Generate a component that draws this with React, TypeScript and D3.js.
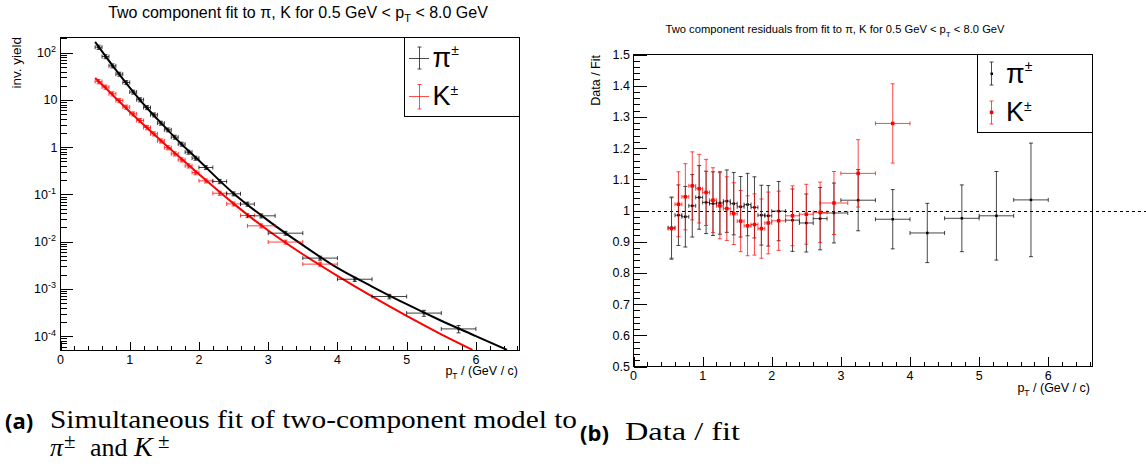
import React from "react";
import * as d3 from "d3";

const W = 1146;
const H = 466;

// ---------- data ----------
const pionPt = [0.55, 0.65, 0.75, 0.85, 0.95, 1.05, 1.15, 1.25, 1.35, 1.45, 1.55, 1.65, 1.75, 1.85, 1.95, 2.1, 2.3, 2.5, 2.7, 2.9, 3.25, 3.75, 4.25, 4.75, 5.25, 5.75];
const pionHalfWidth = [0.05, 0.05, 0.05, 0.05, 0.05, 0.05, 0.05, 0.05, 0.05, 0.05, 0.05, 0.05, 0.05, 0.05, 0.05, 0.1, 0.1, 0.1, 0.1, 0.2, 0.25, 0.25, 0.25, 0.25, 0.25, 0.25];
const pionYield = [131, 83, 52.8, 35.2, 23.4, 14.7, 10.1, 6.9, 4.84, 3.23, 2.33, 1.63, 1.16, 0.786, 0.586, 0.371, 0.188, 0.103, 0.0623, 0.0352, 0.0151, 0.00448, 0.0016, 0.00069, 0.000307, 0.000142];
const pionRatio = [0.945, 0.985, 0.98, 1.015, 1.042, 1.026, 1.022, 1.024, 1.03, 1.022, 1.012, 1.019, 1.01, 0.985, 0.983, 0.998, 0.969, 0.96, 0.974, 0.992, 1.033, 0.972, 0.928, 0.975, 0.983, 1.034];
const pionRatioErr = [0.098, 0.097, 0.097, 0.1, 0.102, 0.1, 0.102, 0.1, 0.1, 0.1, 0.097, 0.1, 0.098, 0.096, 0.097, 0.095, 0.1, 0.093, 0.1, 0.096, 0.098, 0.095, 0.095, 0.107, 0.142, 0.182];

const kaonPt = [0.55, 0.65, 0.75, 0.85, 0.95, 1.05, 1.15, 1.25, 1.35, 1.45, 1.55, 1.65, 1.75, 1.85, 1.95, 2.1, 2.3, 2.5, 2.7, 2.9, 3.25, 3.75];
const kaonHalfWidth = [0.05, 0.05, 0.05, 0.05, 0.05, 0.05, 0.05, 0.05, 0.05, 0.05, 0.05, 0.05, 0.05, 0.05, 0.05, 0.1, 0.1, 0.1, 0.1, 0.2, 0.25, 0.25];
const kaonYield = [24.5, 18.7, 13.5, 9.7, 7.05, 5.08, 3.67, 2.61, 1.92, 1.36, 0.98, 0.724, 0.54, 0.403, 0.29, 0.194, 0.106, 0.063, 0.0357, 0.0216, 0.0098, 0.00334];
const kaonRatio = [0.942, 1.02, 1.044, 1.079, 1.07, 1.058, 1.033, 1.015, 1.006, 0.99, 0.966, 0.951, 0.955, 0.942, 0.96, 0.967, 0.983, 0.988, 0.994, 1.024, 1.119, 1.279];
const kaonRatioErr = [0.099, 0.104, 0.106, 0.109, 0.11, 0.106, 0.104, 0.106, 0.102, 0.099, 0.098, 0.096, 0.098, 0.095, 0.099, 0.095, 0.096, 0.096, 0.097, 0.101, 0.108, 0.127];

const pionFitPt = [0.5, 0.75, 1.0, 1.25, 1.5, 1.75, 2.0, 2.5, 3.0, 3.5, 4.0, 4.5, 5.0, 5.5, 6.0, 6.45];
const pionFitYield = [170, 53.9, 18.3, 6.74, 2.75, 1.15, 0.52, 0.105, 0.0279, 0.00843, 0.00277, 0.00112, 0.000473, 0.000211, 0.0001, 0.000051];
const kaonFitPt = [0.5, 0.75, 1.0, 1.25, 1.5, 1.75, 2.0, 2.5, 3.0, 3.5, 4.0, 4.5, 5.0, 5.5, 5.95];
const kaonFitYield = [29, 12.93, 5.62, 2.57, 1.18, 0.565, 0.268, 0.0638, 0.0172, 0.0054, 0.00188, 0.00069, 0.000267, 0.000109, 0.0000513];

const xTickLabels = ["0", "1", "2", "3", "4", "5", "6"];
const logDecades = [-4, -3, -2, -1, 0, 1, 2];
const ratioTickLabels = ["0.5", "0.6", "0.7", "0.8", "0.9", "1", "1.1", "1.2", "1.3", "1.4", "1.5"];

// ---------- layout ----------
const FONT = "'Liberation Sans', Arial, Helvetica, sans-serif";
const SERIF = "'Liberation Serif', 'Times New Roman', serif";
const L = { x0: 60.5, x1: 519.5, y0: 37.5, y1: 350.5 };
const R = { x0: 633.5, x1: 1092.5, y0: 54.5, y1: 366.5 };

const xL = d3.scaleLinear().domain([0, 6.63]).range([L.x0, L.x1]);
const yL = d3.scaleLog().domain([Math.pow(10, -4.305), Math.pow(10, 2.322)]).range([L.y1, L.y0]);
const xR = d3.scaleLinear().domain([0, 6.64]).range([R.x0, R.x1]);
const yR = d3.scaleLinear().domain([0.5, 1.5]).range([R.y1, R.y0]);

const BLACK = "#000000";
const RED = "#ff0000";

function errPath(cx: number, cy: number, xa: number, xb: number, ya: number, yb: number, cap: number) {
  let p = `M${xa},${cy}H${xb}`;
  p += `M${xa},${cy - cap}V${cy + cap}M${xb},${cy - cap}V${cy + cap}`;
  p += `M${cx},${ya}V${yb}`;
  p += `M${cx - cap},${ya}H${cx + cap}M${cx - cap},${yb}H${cx + cap}`;
  return p;
}

function SupLabel({ x, y, base, sup, anchor, size }: any) {
  return (
    <text x={x} y={y} textAnchor={anchor} fontFamily={FONT} fontSize={size}>
      {base}
      {sup !== undefined && (
        <tspan dy={-5} fontSize={size * 0.72}>
          {sup}
        </tspan>
      )}
    </text>
  );
}

export default function App() {
  const xTicksL: JSX.Element[] = [];
  for (let i = 0; i * 0.2 <= 6.63 + 1e-9; i++) {
    const v = i * 0.2;
    const major = i % 5 === 0;
    const px = Math.round(xL(v)) + 0.5;
    xTicksL.push(<path key={"xl" + i} d={`M${px},${L.y1}V${L.y1 - (major ? 9 : 4.7)}`} stroke="#000" />);
  }
  const yTicksL: JSX.Element[] = [];
  const [ymin, ymax] = yL.domain();
  for (let k = -5; k <= 2; k++) {
    for (let m = 1; m <= 9; m++) {
      const v = m * Math.pow(10, k);
      if (v < ymin || v > ymax) continue;
      const py = Math.round(yL(v)) + 0.5;
      yTicksL.push(<path key={`yl${k}_${m}`} d={`M${L.x0},${py}H${L.x0 + (m === 1 ? 12 : 6)}`} stroke="#000" />);
    }
  }
  const xTicksR: JSX.Element[] = [];
  for (let i = 0; i * 0.2 <= 6.64 + 1e-9; i++) {
    const v = i * 0.2;
    const major = i % 5 === 0;
    const px = Math.round(xR(v)) + 0.5;
    xTicksR.push(<path key={"xr" + i} d={`M${px},${R.y1}V${R.y1 - (major ? 10 : 4.5)}`} stroke="#000" />);
  }
  const yTicksR: JSX.Element[] = [];
  for (let i = 0; i <= 50; i++) {
    const v = 0.5 + i * 0.02;
    const major = i % 5 === 0;
    const py = Math.round(yR(v)) + 0.5;
    yTicksR.push(<path key={"yr" + i} d={`M${R.x0},${py}H${R.x0 + (major ? 13 : 6.5)}`} stroke="#000" />);
  }

  const lineL = d3
    .line<[number, number]>()
    .x((d) => xL(d[0]))
    .y((d) => yL(d[1]))
    .curve(d3.curveCatmullRom.alpha(0.5));
  const pionFit = lineL(pionFitPt.map((p, i) => [p, pionFitYield[i]] as [number, number])) || "";
  const kaonFit = lineL(kaonFitPt.map((p, i) => [p, kaonFitYield[i]] as [number, number])) || "";

  const leftPoints = (pts: number[], hw: number[], ys: number[], rat: number[], rerr: number[], color: string, key: string) =>
    pts.map((p, i) => {
      const cx = xL(p);
      const cy = yL(ys[i]);
      const rel = rerr[i] / rat[i];
      const ya = yL(ys[i] * (1 + rel));
      const yb = yL(Math.max(ys[i] * (1 - rel), 1e-9));
      return (
        <g key={key + i}>
          <path d={errPath(cx, cy, xL(p - hw[i]), xL(p + hw[i]), ya, yb, 2)} stroke={color} strokeOpacity={0.75} strokeWidth={1} fill="none" />
          <rect x={cx - 1.5} y={cy - 1.5} width={3} height={3} fill={color} fillOpacity={0.6} />
        </g>
      );
    });

  const rightPoints = (pts: number[], hw: number[], rat: number[], rerr: number[], color: string, key: string, msize: number) =>
    pts.map((p, i) => {
      const cx = xR(p);
      const cy = yR(rat[i]);
      return (
        <g key={key + i}>
          <path d={errPath(cx, cy, xR(p - hw[i]), xR(p + hw[i]), yR(rat[i] + rerr[i]), yR(rat[i] - rerr[i]), 2)} stroke={color} strokeOpacity={0.72} strokeWidth={1} fill="none" />
          <rect x={cx - msize / 2} y={cy - msize / 2} width={msize} height={msize} fill={color} />
        </g>
      );
    });

  return (
    <svg width={W} height={H} viewBox={`0 0 ${W} ${H}`} style={{ display: "block", position: "absolute", left: 0, top: 0, background: "#fff" }}>
      <rect x={0} y={0} width={W} height={H} fill="#fff" />
      <defs>
        <clipPath id="clipL">
          <rect x={L.x0} y={L.y0} width={L.x1 - L.x0} height={L.y1 - L.y0} />
        </clipPath>
      </defs>

      {/* ===== Left plot ===== */}
      <text x={298} y={18} textAnchor="middle" fontFamily={FONT} fontSize={16}>
        Two component fit to π, K for 0.5 GeV &lt; p
        <tspan dy={4} fontSize={11}>T</tspan>
        <tspan dy={-4}> &lt; 8.0 GeV</tspan>
      </text>
      <g shapeRendering="crispEdges">
        <rect x={L.x0} y={L.y0} width={L.x1 - L.x0} height={L.y1 - L.y0} fill="none" stroke="#000" />
        {xTicksL}
        {yTicksL}
      </g>
      {xTickLabels.map((t, i) => (
        <text key={"xlL" + i} x={xL(i)} y={363.5} textAnchor="middle" fontFamily={FONT} fontSize={12.5}>
          {t}
        </text>
      ))}
      {logDecades.map((k) => (
        <SupLabel
          key={"lab" + k}
          x={k === 0 || k === 1 ? 57.5 : 56}
          y={yL(Math.pow(10, k)) + 4.5}
          base={k === 0 ? "1" : "10"}
          sup={k === 0 || k === 1 ? undefined : String(k)}
          anchor="end"
          size={12.5}
        />
      ))}
      <text transform="translate(20.5,37) rotate(-90)" textAnchor="end" fontFamily={FONT} fontSize={13.5}>
        inv. yield
      </text>
      <text x={518} y={375} textAnchor="end" fontFamily={FONT} fontSize={12.5}>
        p<tspan dy={4} fontSize={8.5}>T</tspan>
        <tspan dy={-4}> / (GeV / c)</tspan>
      </text>
      <g clipPath="url(#clipL)">
        <path d={pionFit} stroke={BLACK} strokeWidth={2} fill="none" />
        <path d={kaonFit} stroke={RED} strokeWidth={2} fill="none" />
      </g>
      {leftPoints(kaonPt, kaonHalfWidth, kaonYield, kaonRatio, kaonRatioErr, RED, "kl")}
      {leftPoints(pionPt, pionHalfWidth, pionYield, pionRatio, pionRatioErr, BLACK, "pl")}

      {/* left legend */}
      <g shapeRendering="crispEdges">
        <rect x={404.5} y={37.5} width={115} height={78.5} fill="#fff" stroke="#000" />
      </g>
      <path d={`M409,58.5H429M419.5,47V69M417.5,47H421.5M417.5,69H421.5`} stroke="#000" strokeOpacity={0.7} fill="none" />
      <path d={`M409,96.5H429M419.5,84.5V109M417.5,84.5H421.5M417.5,109H421.5`} stroke={RED} strokeOpacity={0.7} fill="none" />
      <text x={432.5} y={67} fontFamily={FONT} fontSize={27}>
        π<tspan dy={-12} fontSize={14}>±</tspan>
      </text>
      <text x={432.5} y={105} fontFamily={FONT} fontSize={27}>
        K<tspan dy={-10} fontSize={14}>±</tspan>
      </text>

      {/* ===== Right plot ===== */}
      <text x={835} y={33} textAnchor="middle" fontFamily={FONT} fontSize={11.2}>
        Two component residuals from fit to π, K for 0.5 GeV &lt; p
        <tspan dy={4} fontSize={8}>T</tspan>
        <tspan dy={-4}> &lt; 8.0 GeV</tspan>
      </text>
      <g shapeRendering="crispEdges">
        <rect x={R.x0} y={R.y0} width={R.x1 - R.x0} height={R.y1 - R.y0} fill="none" stroke="#000" />
        {xTicksR}
        {yTicksR}
      </g>
      {xTickLabels.map((t, i) => (
        <text key={"xlR" + i} x={xR(i)} y={380} textAnchor="middle" fontFamily={FONT} fontSize={12.5}>
          {t}
        </text>
      ))}
      {ratioTickLabels.map((t, i) => (
        <text key={"ylR" + i} x={630} y={yR(0.5 + i * 0.1) + 4.5} textAnchor="end" fontFamily={FONT} fontSize={12.5}>
          {t}
        </text>
      ))}
      <text transform="translate(600,55) rotate(-90)" textAnchor="end" fontFamily={FONT} fontSize={12.5}>
        Data / Fit
      </text>
      <text x={1090} y={392} textAnchor="end" fontFamily={FONT} fontSize={12.5}>
        p<tspan dy={4} fontSize={8.5}>T</tspan>
        <tspan dy={-4}> / (GeV / c)</tspan>
      </text>
      <path d={`M${R.x0},${Math.round(yR(1)) + 0.5}H${W}`} stroke="#000" strokeDasharray="3,3" shapeRendering="crispEdges" />
      {rightPoints(pionPt, pionHalfWidth, pionRatio, pionRatioErr, BLACK, "pr", 2.5)}
      {rightPoints(kaonPt, kaonHalfWidth, kaonRatio, kaonRatioErr, RED, "kr", 3.5)}

      {/* right legend */}
      <g shapeRendering="crispEdges">
        <rect x={977.5} y={54.5} width={115} height={78} fill="#fff" stroke="#000" />
      </g>
      <path d={`M991.5,62V85M989.5,62H993.5M989.5,85H993.5`} stroke="#000" strokeOpacity={0.7} fill="none" />
      <rect x={990.5} y={72.5} width={2.5} height={2.5} fill="#000" />
      <path d={`M991.5,101V124M989.5,101H993.5M989.5,124H993.5`} stroke={RED} strokeOpacity={0.7} fill="none" />
      <rect x={989.8} y={110.6} width={3.5} height={3.5} fill={RED} />
      <text x={1006} y={83} fontFamily={FONT} fontSize={27}>
        π<tspan dy={-12} fontSize={14}>±</tspan>
      </text>
      <text x={1006} y={121} fontFamily={FONT} fontSize={27}>
        K<tspan dy={-10} fontSize={14}>±</tspan>
      </text>

      {/* ===== Captions ===== */}
      <text x={5} y={429} fontFamily="'Open Sans', 'DejaVu Sans', sans-serif" fontWeight="bold" fontSize={22}>
        (a)
      </text>
      <text x={50} y={428} fontFamily={SERIF} fontSize={25} textLength={527} lengthAdjust="spacingAndGlyphs">
        Simultaneous fit of two-component model to
      </text>
      <text y={456} fontFamily={SERIF} fontSize={26}>
        <tspan x={50} fontStyle="italic">π</tspan>
        <tspan x={64} y={448} fontSize={21}>±</tspan>
        <tspan x={90} y={456}>and</tspan>
        <tspan x={134} fontStyle="italic" fontSize={28}>K</tspan>
        <tspan x={158} y={448} fontSize={21}>±</tspan>
      </text>
      <text x={580} y={441} fontFamily="'Open Sans', 'DejaVu Sans', sans-serif" fontWeight="bold" fontSize={22}>
        (b)
      </text>
      <text x={625} y={440} fontFamily={SERIF} fontSize={25} textLength={115} lengthAdjust="spacingAndGlyphs">
        Data / fit
      </text>
    </svg>
  );
}
